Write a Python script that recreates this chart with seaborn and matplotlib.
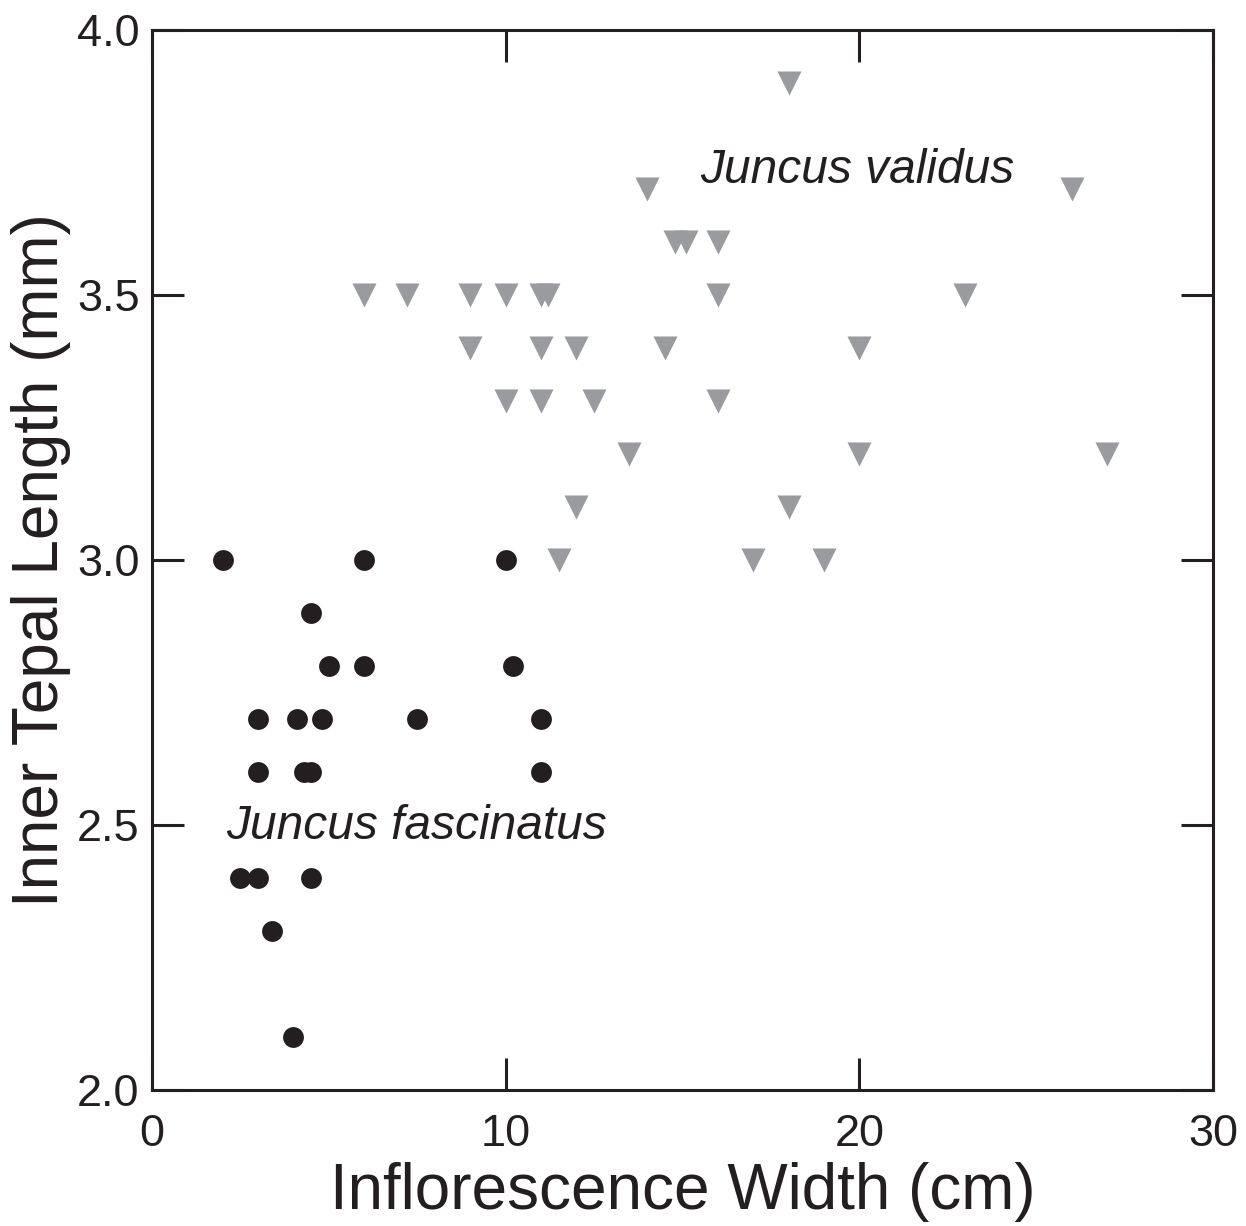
import pandas as pd
import matplotlib
matplotlib.use("Agg")
import matplotlib.pyplot as plt
import seaborn as sns

# Juncus fascinatus (black circles)
fasc_width = [2, 6, 10, 4.5, 5, 6, 10.2, 3, 4.1, 4.8, 7.5, 11, 3, 4.3, 4.5, 11, 2.5, 3, 4.5, 3.4, 4]
fasc_tepal = [3.0, 3.0, 3.0, 2.9, 2.8, 2.8, 2.8, 2.7, 2.7, 2.7, 2.7, 2.7, 2.6, 2.6, 2.6, 2.6,
              2.4, 2.4, 2.4, 2.3, 2.1]

# Juncus validus (grey triangles)
val_width = [18, 14, 26, 14.8, 15.1, 16,
             6, 7.2, 9, 10, 11, 11.2, 16, 23,
             9, 11, 12, 14.5, 20,
             10, 11, 12.5, 16,
             13.5, 20, 27,
             12, 18,
             11.5, 17, 19]
val_tepal = [3.9, 3.7, 3.7, 3.6, 3.6, 3.6,
             3.5, 3.5, 3.5, 3.5, 3.5, 3.5, 3.5, 3.5,
             3.4, 3.4, 3.4, 3.4, 3.4,
             3.3, 3.3, 3.3, 3.3,
             3.2, 3.2, 3.2,
             3.1, 3.1,
             3.0, 3.0, 3.0]

x_ticks = [0, 10, 20, 30]
y_ticks = [2.0, 2.5, 3.0, 3.5, 4.0]

ink = "#231f20"
grey = "#9a9b9f"

sns.set_style("ticks")
plt.rcParams["font.family"] = ["Liberation Sans", "DejaVu Sans"]

fasc = pd.DataFrame({"width": fasc_width, "tepal": fasc_tepal})
val = pd.DataFrame({"width": val_width, "tepal": val_tepal})

fig = plt.figure(figsize=(12.46, 12.26), dpi=100)
ax = fig.add_axes([152 / 1246, 1 - 1090 / 1226, (1213 - 152) / 1246, (1090 - 30) / 1226])

sns.scatterplot(data=val, x="width", y="tepal", marker="v", s=300, color=grey,
                linewidth=0, ax=ax, zorder=3)
sns.scatterplot(data=fasc, x="width", y="tepal", marker="o", s=225, color=ink,
                linewidth=0, ax=ax, zorder=3)

ax.set_xlim(0, 30)
ax.set_ylim(2.0, 4.0)
ax.set_xticks(x_ticks)
ax.set_yticks(y_ticks)
ax.set_xticklabels([str(t) for t in x_ticks])
ax.set_yticklabels([f"{t:.1f}" for t in y_ticks])

for side in ["left", "right", "top", "bottom"]:
    ax.spines[side].set_visible(True)
    ax.spines[side].set_color(ink)
    ax.spines[side].set_linewidth(2.2)

ax.tick_params(direction="in", length=23, width=2.2, color=ink, labelsize=32.5,
               labelcolor=ink, top=True, right=True, pad=9)
ax.tick_params(axis="x", pad=17)

ax.set_xlabel("Inflorescence Width (cm)", fontsize=46, color=ink, labelpad=5)
ax.set_ylabel("Inner Tepal Length (mm)", fontsize=46, color=ink, labelpad=4)

ax.text(15.5, 3.711, "Juncus validus", fontsize=34.5, style="italic", color=ink,
        ha="left", va="baseline")
ax.text(2.09, 2.4745, "Juncus fascinatus", fontsize=34.5, style="italic", color=ink,
        ha="left", va="baseline")

fig.savefig("out.png", dpi=100)
